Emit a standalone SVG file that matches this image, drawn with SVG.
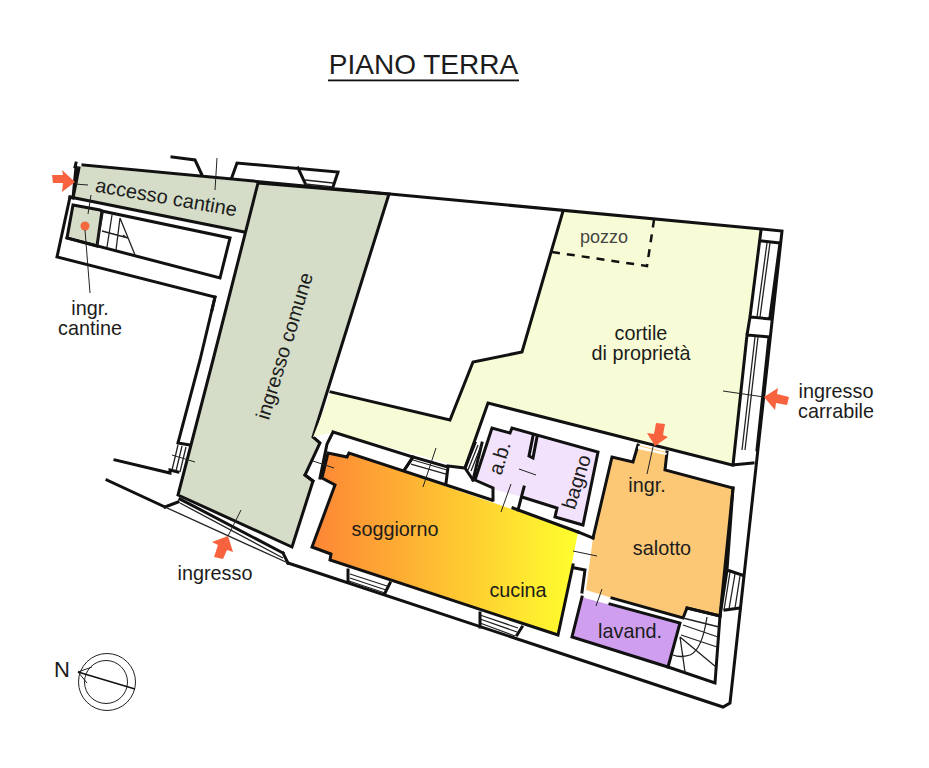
<svg xmlns="http://www.w3.org/2000/svg" width="929" height="768" viewBox="0 0 929 768">
<style>
text{font-family:"Liberation Sans",Arial,sans-serif;fill:#1c1c1c;font-size:19.800px;text-anchor:middle}
.w{fill:none;stroke:#111;stroke-width:3;stroke-linejoin:miter;stroke-linecap:square}
.r{stroke:#111;stroke-width:3;stroke-linejoin:miter}
.t{fill:none;stroke:#222;stroke-width:1}
.s{fill:none;stroke:#222;stroke-width:1.300}
.a{fill:#f8623e}
</style>
<defs>
<linearGradient id="grad" gradientUnits="userSpaceOnUse" x1="312" y1="0" x2="578" y2="0">
<stop offset="0" stop-color="#fd8536"/><stop offset="1" stop-color="#ffff2e"/>
</linearGradient>
</defs>
<rect width="929" height="768" fill="#fff"/>
<g id="title"><text x="423.500" y="74" style="font-size:28px">PIANO TERRA</text><rect x="328" y="79.500" width="191" height="1.800" fill="#111"/></g>
<g id="accesso-cantine">
<polygon points="83,165 258,183 244,232 70,197 73,198 79,168" fill="#d5dcc7"/>
<path class="w" d="M70,197 L244,232"/>
<text transform="translate(165,204) rotate(10)" style="font-size:20px">accesso cantine</text>
</g>
<g id="ingr-cantine">
<path class="w" d="M70,197 L57,257 L215,297 L212,310"/>
<polygon class="r" points="73,205 100,210 102,211 97,246 67,238" fill="#d5dcc7"/>
<path class="w" d="M102,211 L230,238 L220,278 L67,238"/>
<path class="s" d="M103,213 L97,245 M112,215 L107,247 M120,218 L116,250 M120,218 L135,255 M102,231 L128,238 M123,235 L127,238"/>
<circle cx="85" cy="226" r="4.500" fill="#f4683e"/>
<text x="90" y="315">ingr.</text><text x="90" y="335">cantine</text>
</g>
<g id="ingresso-comune">
<polygon class="r" points="258,183 389,194 313,437 320,443 305,475 313,481 292,547 178,495 213,360" fill="#d5dcc7"/>
<text transform="translate(291,348) rotate(-73)" style="font-size:20px">ingresso comune</text>
</g>
<g id="cortile">
<polygon points="563,211 761,229 733,465 488,403 465,468 333,432 313,437 331,392 450,420 473,362 522,352" fill="#f8fcd6"/>
<path class="w" d="M563,211 L522,352 L473,362 L450,420 L331,392"/>
<text x="641" y="340">cortile</text><text x="641" y="360">di proprietà</text>
<path d="M552,252 L647,266 L654,220" fill="none" stroke="#111" stroke-width="2.500" stroke-dasharray="8 7"/>
<text x="604" y="243" style="font-size:18px;fill:#444">pozzo</text>
</g>
<g id="soggiorno-cucina">
<polygon points="328,453 347,457 349,453 578,532 558,635 330,560 331,554 312,547 335,485 322,478" fill="url(#grad)"/>
<path class="w" d="M513,508 L578,532 M573,565 L558,635 L330,560 L331,554 L312,547 L335,485 L322,478 L328,453 L347,457 L349,453 L492,500"/>
<text x="395" y="536">soggiorno</text><text x="518" y="597">cucina</text>
</g>
<g id="bagno">
<polygon points="492,428 510,433 512,428 598,452 583,525 555,517 557,508 522,497 493,489 475,480" fill="#f2e2fb"/>
<path class="w" d="M493,500 L493,488 L475,480 L492,428 L510,433 L512,428 L598,452 L583,525 L555,517 L557,508 L522,497 M524,487 L518,510"/>
<path class="w" d="M537,437 L533,458 L529,456 L533,436"/>
<text transform="translate(506,460) rotate(-73)" style="font-size:20px">a.b.</text>
<text transform="translate(583,484) rotate(-73)" style="font-size:20px">bagno</text>
</g>
<g id="salotto">
<polygon points="612,457 633,462 638,445 667,452 665,470 733,488 720,616 687,608 683,618 612,598 586,590 593,538" fill="#fdc876"/>
<path class="w" d="M593,538 L612,457 L633,462 L638,445 M667,452 L665,470 L733,488 L720,616 L687,608 L683,618 L612,598"/>
<text x="662" y="555">salotto</text><text x="647" y="492">ingr.</text>
<polygon points="638,446 667,453 666,455 638,449" fill="#fff"/>
</g>
<g id="lavanderia">
<polygon points="582,597 680,623 668,667 572,637" fill="#cf9eee"/>
<polygon points="589,592 610,598 607,604 585,598" fill="#fff"/>
<path class="w" d="M582,597 L572,637 L668,667 L680,623 L610,604"/>
<text x="630" y="638">lavand.</text>
</g>
<g id="walls">
<path class="w" d="M83,165 L782,231 L730,703 L723,707 L288,563 M76,163 L75,167 M79,168 L73,198 M76,167 L73,198 M172,157 L195,160 L202,175 M232,177 L237,163 L338,172 L333,187 M298,168 L305,183"/>
<path class="w" d="M107,480 L165,507 M115,460 L170,473 L170,470 L178,472 M178,443 L200,360 L215,297 M190,445 L178,443 M180,499 L283,553 M178,502 L165,507 M288,563 L283,553"/>
<path d="M165,507 L288,563" stroke="#222" stroke-width="1.300" fill="none"/>
<path class="w" d="M333,432 L413,457 L405,469 M413,457 L448,467 L446,483 M448,466 L465,468 L488,403 L732,465 L753,463 M333,432 L327,444 L320,478 M305,475 L313,481 M465,468 L473,480"/>
<path class="w" d="M475,443 L465,468 M482,443 L473,480"/>
<path class="w" d="M575,568 L585,570 L582,592 M578,532 L593,538"/>
<path class="w" d="M687,608 L720,616 L715,683 L668,667"/>
<path class="w" d="M761,230 L750,317 M780,243 L770,317 M762,241 L780,243 M750,317 L771,319 M747,335 L769,337 M750,317 L747,335 M747,335 L733,465 M769,337 L757,450 M733,488 L727,570 L720,616 M727,570 L742,575 M725,610 L740,608"/>
<path class="s" d="M770,243 L760,317 M767,243 L757,317 M758,337 L745,450 M755,337 L742,450 M730,572 L724,610 M735,574 L729,609 M740,576 L735,608 M305,180 L333,183 M305,184 L333,187"/>
<path class="s" d="M178,445 L172,470 M182,446 L176,471 M186,447 L180,472 M180,503 L283,558 M413,460 L447,470 M411,464 L446,474 M350,578 L386,590 M350,574 L387,586 M349,581 L385,593 M480,615 L518,628 M480,619 L517,632 M480,623 L515,636 M468,470 L478,445 M471,471 L481,446"/>
<path class="w" d="M348,570 L348,582 M390,583 L385,593 M480,613 L480,627 M522,627 L517,635 M405,469 L413,457"/>
<path class="s" d="M683,618 L719,627 M683,625 L718,637 M681,635 L717,647 M680,637 L716,667 M680,637 L685,672 M707,617 Q702,650 690,655 Q680,658 673,655"/>
</g>
<g id="connectors">
<path class="t" d="M217,158 L215,190 M75,184 L88,185 M91,195 L88,214 M85,230 L90,293 M172,455 L195,462 M241,510 L228,536 M313,461 L334,468 M436,448 L423,487 M511,484 L501,512 M519,469 L536,475 M573,551 L597,556 M602,589 L596,606 M653,447 L647,474 M723,391 L764,397"/>
</g>
<g id="arrows">
<polygon class="a" points="52,175 63,175 62,170 75,182 62,192 63,183 53,183"/>
<polygon class="a" points="212,542 218,545 214,557 223,559 227,550 233,552 228,536"/>
<polygon class="a" points="764,397 778,388 777,394 789,397 787,405 776,403 775,410"/>
<polygon class="a" points="655,446 647,433 654,434 656,423 665,424 663,435 668,437"/>
</g>
<g id="labels">
<text x="215" y="580">ingresso</text>
<text x="836" y="398">ingresso</text><text x="836" y="418">carrabile</text>
</g>
<g id="north">
<text x="62" y="677" style="font-size:22px">N</text>
<circle cx="107" cy="682" r="28.500" class="t"/><circle cx="106" cy="682" r="21.500" class="t"/>
<path class="t" d="M92,667 L78,672 L87,683" />
<path d="M78,672 L135,689" stroke="#111" stroke-width="1.500"/>
</g>
</svg>
